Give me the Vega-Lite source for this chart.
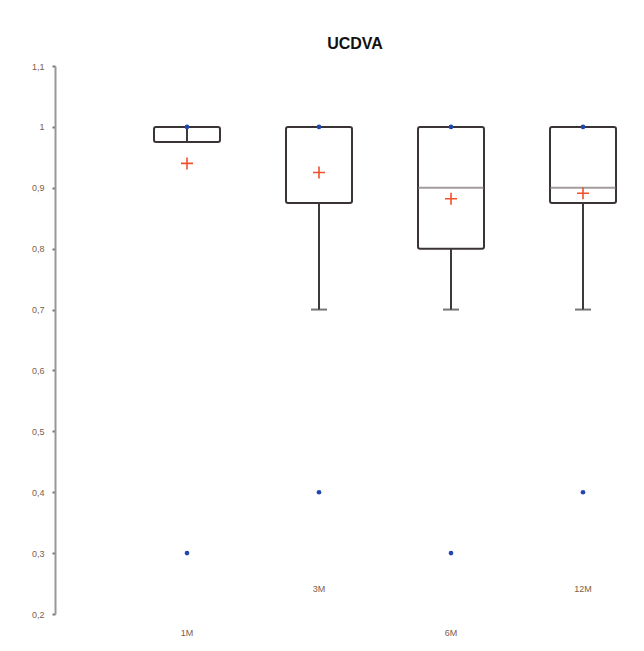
{
  "$schema": "https://vega.github.io/schema/vega-lite/v6.json",
  "autosize": {"type": "none"},
  "width": 528,
  "height": 548,
  "padding": {"left": 121, "top": 66, "right": 0, "bottom": 37},
  "background": "white",
  "title": {"text": "UCDVA", "font": "Liberation Sans", "fontSize": 16, "fontWeight": "bold", "color": "#111111", "anchor": "middle", "dx": -30, "offset": -3, "baseline": "alphabetic"},
  "config": {"view": {"stroke": null}, "font": "Liberation Sans"},
  "data": {"values": [
    {"m": "1M", "q1": 0.975, "q3": 1.0, "median": null, "lo": 0.975, "hi": 1.0, "cap": null, "mean": 0.94, "max": 1.0, "min": 0.3},
    {"m": "3M", "q1": 0.875, "q3": 1.0, "median": null, "lo": 0.7, "hi": 0.875, "cap": 0.7, "mean": 0.925, "max": 1.0, "min": 0.4},
    {"m": "6M", "q1": 0.8, "q3": 1.0, "median": 0.9, "lo": 0.7, "hi": 0.8, "cap": 0.7, "mean": 0.882, "max": 1.0, "min": 0.3},
    {"m": "12M", "q1": 0.875, "q3": 1.0, "median": 0.9, "lo": 0.7, "hi": 0.875, "cap": 0.7, "mean": 0.891, "max": 1.0, "min": 0.4}
  ]},
  "encoding": {
    "x": {"field": "m", "type": "nominal", "sort": ["1M", "3M", "6M", "12M"],
      "scale": {"type": "band", "paddingInner": 0, "paddingOuter": 0},
      "axis": {"title": null, "domain": false, "ticks": false, "labelAngle": 0, "labelFontSize": 9, "labelColor": "#7d6048", "labelBaseline": "middle",
        "labelPadding": {"condition": {"test": "datum.value === '3M' || datum.value === '12M'", "value": -26}, "value": 18}}}
  },
  "layer": [
    {"mark": {"type": "bar", "fill": "white", "stroke": "#3a3434", "strokeWidth": 2, "size": 66, "cornerRadius": 2},
     "encoding": {"y": {"field": "q1", "type": "quantitative",
        "scale": {"domain": [0.2, 1.1], "nice": false, "zero": false},
        "axis": {"title": null, "grid": false, "offset": 66, "values": [0.2, 0.3, 0.4, 0.5, 0.6, 0.7, 0.8, 0.9, 1.0, 1.1],
          "labelExpr": "replace(format(datum.value, '.1~f'), '.', ',')",
          "domainColor": "#9a9696", "domainWidth": 2, "tickColor": "#7a7676", "tickWidth": 2, "tickSize": 3,
          "labelFontSize": 9, "labelColor": "#7d6048", "labelPadding": 8}},
       "y2": {"field": "q3"}}},
    {"mark": {"type": "rule", "color": "#3e3a3a", "strokeWidth": 2},
     "encoding": {"y": {"field": "lo", "type": "quantitative"}, "y2": {"field": "hi"}}},
    {"mark": {"type": "tick", "orient": "horizontal", "color": "#3e3a3a", "thickness": 2, "size": 16},
     "encoding": {"y": {"field": "cap", "type": "quantitative"}}},
    {"mark": {"type": "tick", "orient": "horizontal", "color": "#7a7474", "thickness": 2, "size": 66},
     "encoding": {"y": {"field": "median", "type": "quantitative"}}},
    {"mark": {"type": "point", "shape": "M-1,0L1,0M0,-1L0,1", "filled": false, "stroke": "#f0502a", "strokeWidth": 1.6, "size": 144, "opacity": 1},
     "encoding": {"y": {"field": "mean", "type": "quantitative"}}},
    {"mark": {"type": "circle", "color": "#2246b0", "size": 22, "opacity": 1},
     "encoding": {"y": {"field": "max", "type": "quantitative"}}},
    {"mark": {"type": "circle", "color": "#2246b0", "size": 22, "opacity": 1},
     "encoding": {"y": {"field": "min", "type": "quantitative"}}}
  ]
}
